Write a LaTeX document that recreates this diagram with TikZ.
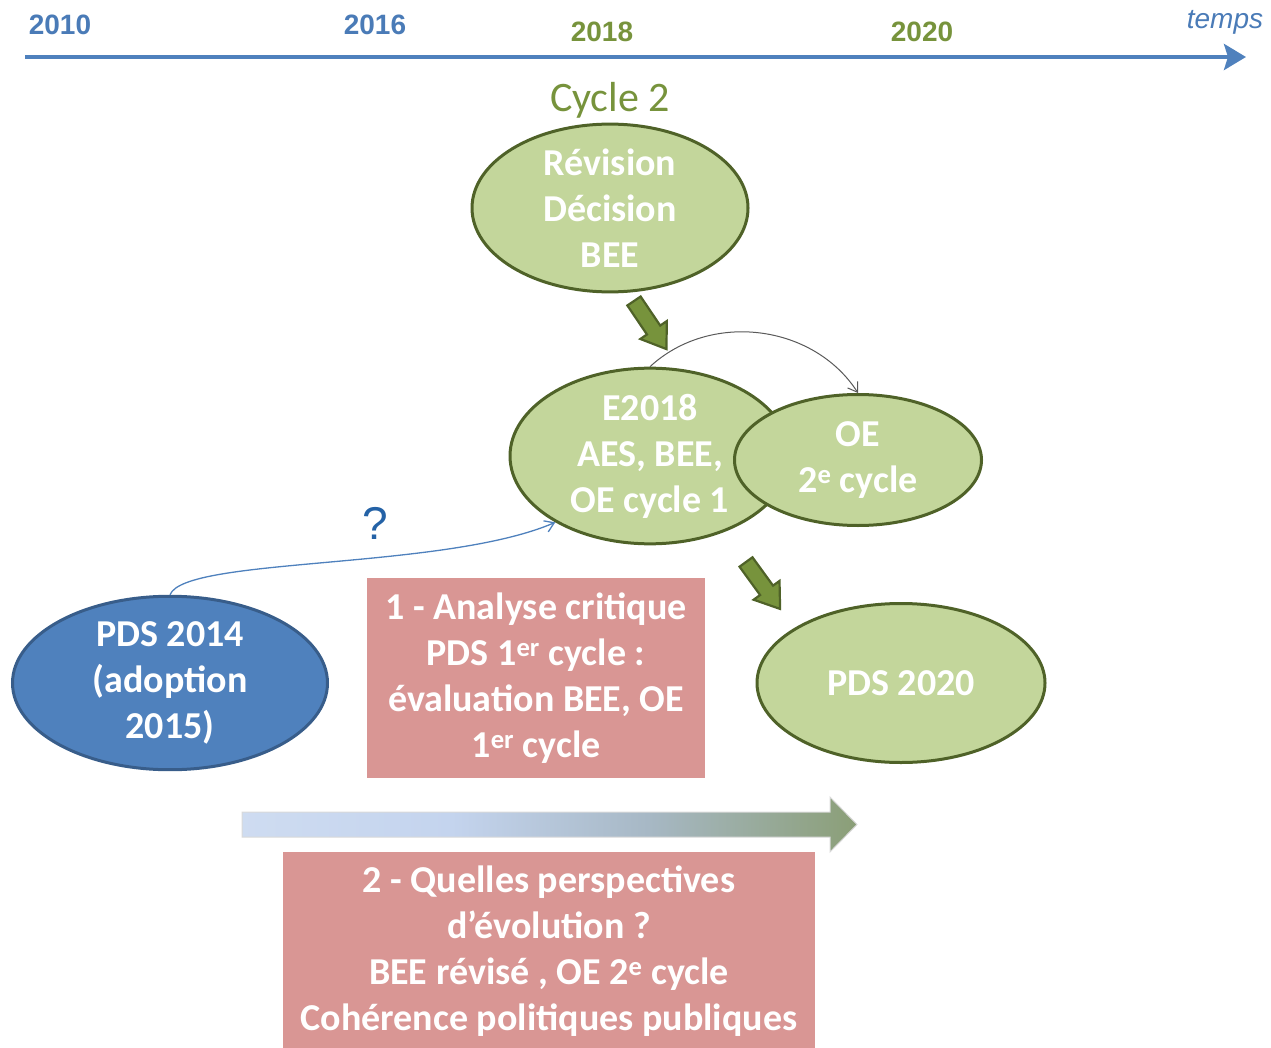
\documentclass[tikz,border=0pt]{standalone}
\usepackage{fontspec}
\setmainfont{Carlito}
\newfontfamily\arialfont{Liberation Sans}
\usetikzlibrary{shapes.geometric,arrows.meta}

\definecolor{leaf}{HTML}{C3D69B}
\definecolor{leafdark}{HTML}{4F6228}
\definecolor{olive}{HTML}{77933C}
\definecolor{sky}{HTML}{4F81BD}
\definecolor{skydark}{HTML}{385D8A}
\definecolor{yearblue}{HTML}{4A7BB7}
\definecolor{rose}{HTML}{D99694}
\definecolor{qblue}{HTML}{2462A6}
\definecolor{evol1}{HTML}{DDE7F5}
\definecolor{evol2}{HTML}{C4D4EE}
\definecolor{evol3}{HTML}{A7B8C5}
\definecolor{evol4}{HTML}{899D72}
\definecolor{evol5}{HTML}{6A8446}

\pgfdeclarehorizontalshading{evolshade}{100bp}{color(0bp)=(evol1); color(42bp)=(evol2); color(58bp)=(evol3); color(76bp)=(evol4); color(100bp)=(evol5)}

\tikzset{
  bigtext/.style={font=\bfseries\fontsize{38}{46}\selectfont, text=white, align=center},
  greenell/.style={ellipse, draw=leafdark, fill=leaf, line width=3pt, inner sep=0pt, bigtext},
  blueell/.style={ellipse, draw=skydark, fill=sky, line width=3pt, inner sep=0pt, bigtext},
  rosebox/.style={rectangle, fill=rose, inner sep=0pt, bigtext},
  year/.style={font=\arialfont\bfseries\fontsize{28}{32}\selectfont},
  garrow/.pic={
    \draw[fill=olive, draw=leafdark, line width=2.2pt, line join=miter]
      (0,-8) -- (35,-8) -- (35,-16) -- (58,0) -- (35,16) -- (35,8) -- (0,8) -- cycle;
  }
}

\begin{document}
\begin{tikzpicture}[x=1pt,y=1pt]
\useasboundingbox (0,0) rectangle (1271,-1048);

% time axis
\coordinate (t0) at (25,-57);
\coordinate (t1) at (1246,-57);
\draw[sky, line width=4pt, -{Stealth[length=22pt,width=26pt,inset=4pt]}] (t0) -- (t1);
\node[year, yearblue] (y2010) at (60,-25) {2010};
\node[year, yearblue] (y2016) at (375,-25) {2016};
\node[year, olive] (y2018) at (602,-32) {2018};
\node[year, olive] (y2020) at (922,-32) {2020};
\node[font=\arialfont\itshape\fontsize{28}{32}\selectfont, yearblue] (temps) at (1225,-22) {temps};

\node[font=\fontsize{42}{48}\selectfont, olive] (cycle) at (610,-100) {Cycle 2};

% ellipses
\node[greenell, minimum width=276pt, minimum height=160pt] (revision) at (610,-208) {Révision\\Décision\\BEE};
\node[greenell, minimum width=280pt, minimum height=163pt] (e2018) at (650,-456) {E2018\\AES, BEE,\\OE cycle 1};
\node[greenell, minimum width=247pt, minimum height=131pt] (oe) at (858,-460) {OE\\2\textsuperscript{e} cycle};
\node[blueell, minimum width=315pt, minimum height=160pt] (pds14) at (170,-683) {PDS 2014\\(adoption\\2015)};
\node[greenell, minimum width=288pt, minimum height=159pt] (pds20) at (901,-683) {PDS 2020};

% boxes
\node[rosebox, minimum width=338pt, minimum height=200pt] (crit) at (536,-678)
  {1 - Analyse critique\\PDS 1\textsuperscript{er} cycle :\\évaluation BEE, OE\\1\textsuperscript{er} cycle};
\node[rosebox, minimum width=532pt, minimum height=198pt] (persp) at (549,-951)
  {2 - Quelles perspectives\\d’évolution ?\\BEE révisé , OE 2\textsuperscript{e} cycle\\Cohérence politiques publiques};

% green arrows
\path (634,-301) pic[rotate=-56] {garrow};
\path (746,-562) pic[rotate=-54] {garrow};

% links
\draw[black!65, line width=1pt, -{Straight Barb[length=9pt,width=12pt]}] (e2018.north) to[bend left=50] (oe.north);
\draw[sky, line width=1.3pt, -{Straight Barb[length=9pt,width=12pt]}] (pds14.north) .. controls +(15,38) and +(-112,-48) .. (e2018.215);
\node[font=\arialfont\fontsize{46}{50}\selectfont, qblue] (quest) at (375,-523) {?};

% evolution arrow
\shade[shading=evolshade, draw=black!15, line width=1pt]
  (242,-812) -- (830,-812) -- (830,-797) -- (857,-824.5) -- (830,-852) -- (830,-837) -- (242,-837) -- cycle;
\end{tikzpicture}
\end{document}
